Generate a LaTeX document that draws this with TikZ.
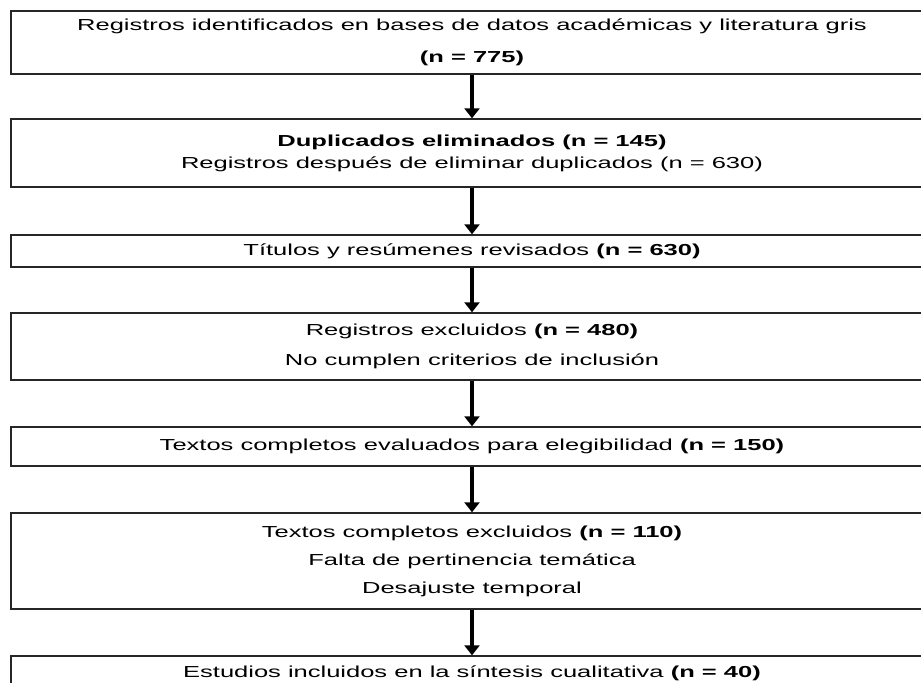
\documentclass[tikz,border=0pt]{standalone}
\usepackage{fontspec}
\setmainfont{Liberation Sans}
\usepackage{graphicx}
\usepackage{tikz}
\usetikzlibrary{arrows.meta}

\newcommand{\widetxt}[1]{\scalebox{1.6}[1]{#1}}

\begin{document}
\begin{tikzpicture}[x=1bp, y=-1bp]
        \tikzstyle{stage} = [rectangle, draw=black!85, line width=1.4bp, fill=white, minimum width=922bp, inner sep=0pt, align=center, font=\fontsize{16}{20}\selectfont]
        \tikzstyle{flow} = [line width=3.5bp, -{Triangle[width=15bp, length=10bp]}]
        \useasboundingbox (0,0) rectangle (921,683);
        \node[stage, minimum height=63bp] (ident) at (472,42.5) {\widetxt{Registros identificados en bases de datos académicas y literatura gris}\\[12bp]\widetxt{\textbf{(n = 775)}}};
        \node[stage, minimum height=68bp] (dupl) at (472,153) {\widetxt{\textbf{Duplicados eliminados (n = 145)}}\\[2bp]\widetxt{Registros después de eliminar duplicados (n = 630)}};
        \node[stage, minimum height=32bp] (cribado) at (472,251) {\widetxt{Títulos y resúmenes revisados \textbf{(n = 630)}}};
        \node[stage, minimum height=67bp] (excl) at (472,346.5) {\widetxt{Registros excluidos \textbf{(n = 480)}}\\[10bp]\widetxt{No cumplen criterios de inclusión}};
        \node[stage, minimum height=39bp] (eleg) at (472,446.5) {\widetxt{Textos completos evaluados para elegibilidad \textbf{(n = 150)}}};
        \node[stage, minimum height=96bp] (exclTC) at (472,561) {\widetxt{Textos completos excluidos \textbf{(n = 110)}}\\[8bp]\widetxt{Falta de pertinencia temática}\\[8bp]\widetxt{Desajuste temporal}};
        \node[stage, minimum height=34bp] (incl) at (472,673) {\widetxt{Estudios incluidos en la síntesis cualitativa \textbf{(n = 40)}}};
        \draw[flow] (ident) -- (dupl);
        \draw[flow] (dupl) -- (cribado);
        \draw[flow] (cribado) -- (excl);
        \draw[flow] (excl) -- (eleg);
        \draw[flow] (eleg) -- (exclTC);
        \draw[flow] (exclTC) -- (incl);
    \end{tikzpicture}
\end{document}
